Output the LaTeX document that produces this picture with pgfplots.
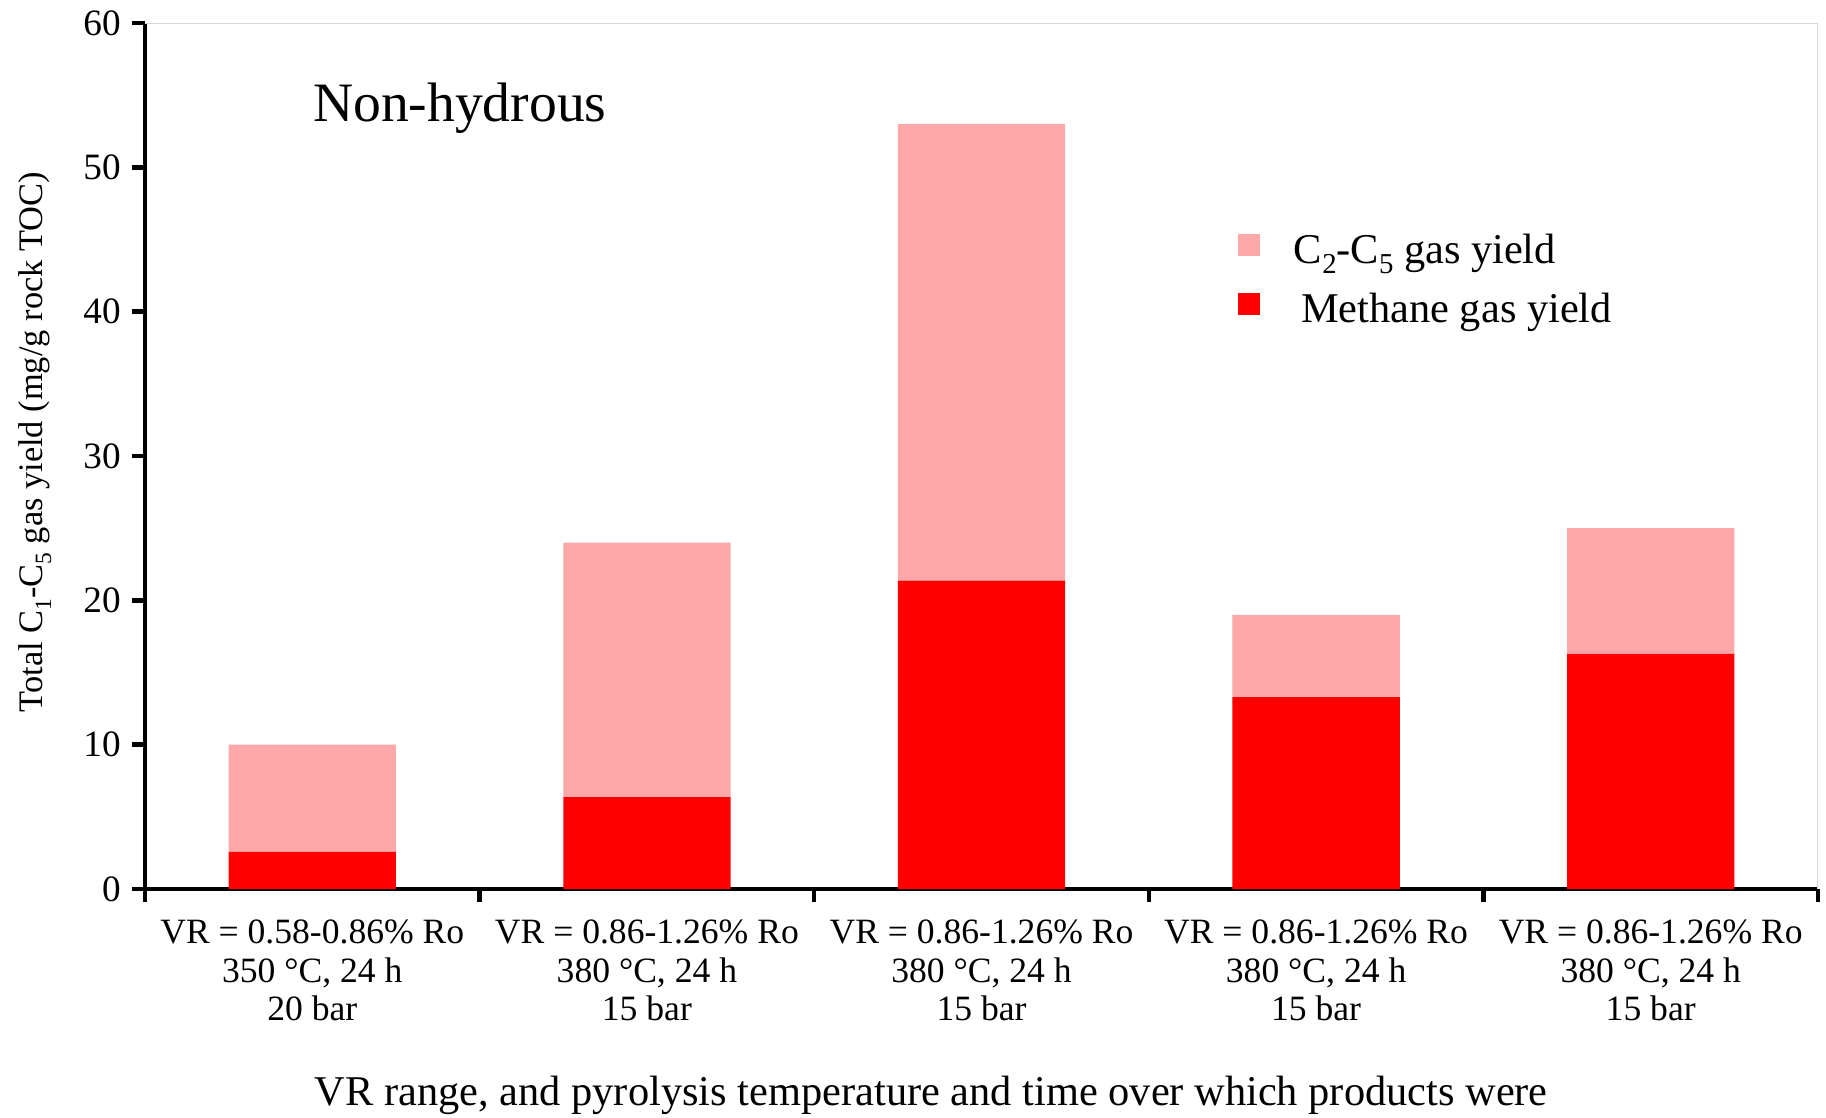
\documentclass[border=0pt]{standalone}
\usepackage{fontspec}
\setmainfont{Liberation Serif}
\usepackage{pgfplots}
\pgfplotsset{compat=1.18}
\definecolor{methane}{RGB}{255,0,0}
\definecolor{ctwo}{RGB}{255,168,170}
\newcommand{\lsub}[1]{\raisebox{-0.55ex}{\scalebox{0.68}{#1}}}
\begin{document}
\begin{tikzpicture}
\useasboundingbox (-36.25pt,-57pt) rectangle (420.25pt,222.25pt);
\begin{axis}[
  at={(0,0)}, anchor=south west,
  scale only axis, width=418.25pt, height=216.5pt,
  xmin=-0.5, xmax=4.5, ymin=0, ymax=60,
  ybar stacked, bar width=0.5,
  axis x line*=bottom, axis y line*=left,
  axis line style={line width=1.1pt, -},
  tick align=outside,
  major tick length=3.2pt,
  tick style={line width=1.1pt, black},
  ytick={0,10,...,60},
  xtick={-0.5,0.5,1.5,2.5,3.5,4.5},
  xticklabels={{VR = 0.58-0.86\% Ro\\350 °C, 24 h\\20 bar},
               {VR = 0.86-1.26\% Ro\\380 °C, 24 h\\15 bar},
               {VR = 0.86-1.26\% Ro\\380 °C, 24 h\\15 bar},
               {VR = 0.86-1.26\% Ro\\380 °C, 24 h\\15 bar},
               {VR = 0.86-1.26\% Ro\\380 °C, 24 h\\15 bar},{}},
  xticklabel style={xshift=41.825pt, align=center, font=\fontsize{8.9}{9.6}\selectfont, yshift=-1pt},
  yticklabel style={font=\fontsize{9.3}{10}\selectfont, inner sep=2.7pt},
  /pgf/number format/assume math mode=true,
  xlabel={VR range, and pyrolysis temperature and time over which products were},
  xlabel style={at={(axis description cs:0.47,0)}, anchor=center, yshift=-51.5pt, font=\fontsize{10.6}{12}\selectfont},
  ylabel={Total C\lsub{1}-C\lsub{5} gas yield (mg/g rock TOC)},
  every axis y label/.style={at={(axis description cs:0,0.516)}, rotate=90, anchor=center, yshift=27.5pt, font=\fontsize{8.6}{10}\selectfont},
  legend style={at={(0.6533,0.7575)}, anchor=north west, draw=none, fill=none,
    inner sep=0pt, outer sep=0pt, row sep=4.75pt,
    font=\fontsize{10.6}{12}\selectfont,
    nodes={text height=7.5pt, text depth=2.5pt, inner ysep=0pt, inner xsep=3pt}},
  legend cell align=left,
  legend image code/.code={\fill[#1] (0pt,-0.75pt) rectangle (5.5pt,4.75pt); \path (11pt,0pt);},
  reverse legend,
]
\addplot+[fill=methane, draw=none] coordinates {(0,2.58) (1,6.37) (2,21.37) (3,13.3) (4,16.29)};
\addlegendentry{\,Methane gas yield}
\addplot+[fill=ctwo, draw=none] coordinates {(0,7.42) (1,17.63) (2,31.63) (3,5.7) (4,8.71)};
\addlegendentry{C\lsub{2}-C\lsub{5} gas yield}
\draw[black!15, line width=0.5pt] (rel axis cs:0,1) -- (rel axis cs:1,1) -- (rel axis cs:1,0);
\node[anchor=base west, inner sep=0pt, font=\fontsize{13.9}{16}\selectfont] at (axis cs:0,53.2) {Non-hydrous};
\end{axis}
\end{tikzpicture}
\end{document}
